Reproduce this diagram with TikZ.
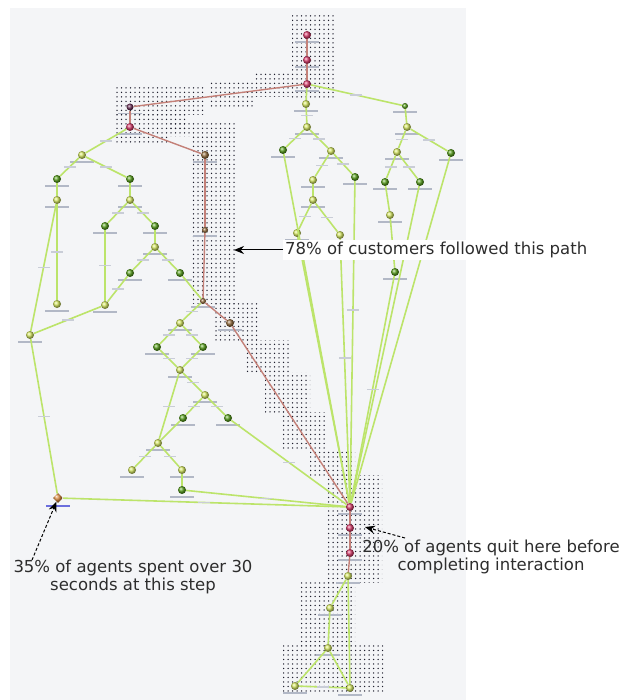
\documentclass[tikz,border=0pt]{standalone}
\usepackage{fontspec}
\setmainfont{DejaVu Sans}
\usetikzlibrary{arrows.meta,patterns,shadings,shapes.geometric}

% fine grid of dots used to mark the most travelled path
\pgfdeclarepatternformonly{griddots}{\pgfqpoint{-1pt}{-1pt}}{\pgfqpoint{1pt}{1pt}}{\pgfqpoint{4.5pt}{4.5pt}}{%
  \pgfpathcircle{\pgfqpoint{0pt}{0pt}}{0.75pt}\pgfusepath{fill}}

\definecolor{panel}{RGB}{244,245,247}
\definecolor{edgegreen}{RGB}{188,228,106}
\definecolor{pathred}{RGB}{196,128,120}
\definecolor{dkgreen}{RGB}{88,160,28}
\definecolor{ylw}{RGB}{214,232,98}
\definecolor{pnk}{RGB}{218,60,108}
\definecolor{brn}{RGB}{150,110,62}
\definecolor{orng}{RGB}{212,132,58}
\definecolor{prpl}{RGB}{110,50,90}
\definecolor{lblc}{RGB}{178,184,198}
\definecolor{dotc}{RGB}{30,30,45}
\definecolor{notec}{RGB}{45,45,45}

\begin{document}
\begin{tikzpicture}[x=1pt,y=-1pt,
  lbar/.style={rectangle,fill=lblc,inner sep=0pt,outer sep=0pt,minimum width=24pt,minimum height=1.8pt,yshift=-2pt},
  ebar/.style={rectangle,fill=lblc!70,inner sep=0pt,minimum width=12pt,minimum height=1.5pt},
  gb/.style={circle,inner sep=0pt,minimum size=8pt,ball color=dkgreen,label={[lbar]below:{}}},
  yb/.style={circle,inner sep=0pt,minimum size=8pt,ball color=ylw,label={[lbar]below:{}}},
  pb/.style={circle,inner sep=0pt,minimum size=8pt,ball color=pnk,label={[lbar]below:{}}},
  bb/.style={circle,inner sep=0pt,minimum size=8pt,ball color=brn,label={[lbar]below:{}}},
  ob/.style={diamond,inner sep=0pt,minimum size=10pt,ball color=orng,label={[lbar,fill=lblc!60!blue]below:{}}},
  ub/.style={circle,inner sep=0pt,minimum size=7pt,ball color=prpl,label={[lbar]below:{}}},
  gedge/.style={draw=edgegreen,line width=1.6pt},
  redge/.style={draw=pathred,line width=1.4pt},
  hot/.style={pattern=griddots,pattern color=dotc},
  note/.style={font=\fontsize{16.5}{18}\selectfont,text=notec,inner sep=1pt,align=center},
  pointer/.style={draw=black,line width=1pt,-{Stealth[length=10pt,width=8pt]}}
]
\useasboundingbox (0,0) rectangle (639,700);
\fill[white] (0,0) rectangle (639,700);
\fill[panel] (10,8) rectangle (466,700);

% highlighted route
\fill[hot] (292,15) rectangle (336,98);
\fill[hot] (255,72) rectangle (292,97);
\fill[hot] (210,82) rectangle (255,107);
\fill[hot] (115,88) rectangle (205,115);
\fill[hot] (115,115) rectangle (188,130);
\fill[hot] (115,130) rectangle (170,143);
\fill[hot] (170,124) rectangle (235,137);
\fill[hot] (190,137) rectangle (235,303);
\fill[hot] (215,303) rectangle (260,340);
\fill[hot] (245,340) rectangle (290,372);
\fill[hot] (265,372) rectangle (310,412);
\fill[hot] (280,412) rectangle (327,450);
\fill[hot] (310,450) rectangle (355,475);
\fill[hot] (325,475) rectangle (382,582);
\fill[hot] (300,582) rectangle (355,645);
\fill[hot] (283,645) rectangle (383,693);

% nodes: top column and left branch
\node[pb] (p1) at (307,35) {};
\node[pb] (p2) at (307,60) {};
\node[pb] (p3) at (307,84) {};
\node[ub] (pu) at (130,107) {};
\node[pb] (pk) at (130,127) {};

\node[yb] (L0) at (82,155) {};
\node[gb] (L1) at (57,179) {};
\node[gb] (L2) at (130,179) {};
\node[yb] (L3) at (57,200) {};
\node[yb] (L4) at (130,200) {};
\node[gb] (L5) at (105,226) {};
\node[gb] (L6) at (155,226) {};
\node[yb] (L7) at (155,247) {};
\node[gb] (L8) at (130,273) {};
\node[gb] (L9) at (180,273) {};
\node[yb] (L10) at (57,304) {};
\node[yb] (L11) at (105,305) {};
\node[yb] (L12) at (30,335) {};
\node[ob] (OR) at (58,498) {};

% brown column and middle branch
\node[bb] (br1) at (205,155) {};
\node[bb,minimum size=6pt] (br2) at (205,230) {};
\node[bb,minimum size=6pt] (br3) at (203,301) {};
\node[bb] (br4) at (230,323) {};

\node[yb] (M1) at (180,323) {};
\node[gb] (M2) at (157,347) {};
\node[gb] (M3) at (203,347) {};
\node[yb] (M4) at (180,370) {};
\node[yb] (M5) at (205,395) {};
\node[gb] (M6) at (183,418) {};
\node[gb] (M7) at (228,418) {};
\node[yb] (M8) at (158,443) {};
\node[yb] (M9) at (132,470) {};
\node[yb] (M10) at (182,470) {};
\node[gb] (M11) at (182,490) {};

% right branches
\node[yb] (R0) at (306,104) {};
\node[yb] (R1) at (307,127) {};
\node[gb] (R2) at (283,150) {};
\node[yb] (R3) at (331,151) {};
\node[yb] (R4) at (313,180) {};
\node[gb] (R5) at (355,177) {};
\node[yb] (R6) at (313,200) {};
\node[yb] (R7) at (297,233) {};
\node[yb] (R8) at (340,235) {};

\node[gb,minimum size=6pt] (S0) at (405,106) {};
\node[yb] (S1) at (407,127) {};
\node[yb] (S2) at (397,152) {};
\node[gb] (S3) at (451,153) {};
\node[gb] (S4) at (385,182) {};
\node[gb] (S5) at (420,182) {};
\node[yb] (S6) at (390,215) {};
\node[gb] (S7) at (395,272) {};

% lower column
\node[pb] (P1) at (350,507) {};
\node[pb] (P2) at (350,528) {};
\node[pb] (P3) at (350,553) {};
\node[yb] (P4) at (348,576) {};
\node[yb] (B1) at (330,608) {};
\node[yb] (B2) at (328,648) {};
\node[yb] (B3) at (295,686) {};
\node[yb] (B4) at (350,688) {};

% connectors
\draw[gedge] (p3) -- (R0);
\draw[gedge] (p3) -- node[ebar]{} (S0);
\draw[gedge] (pk) -- node[ebar]{} (L0);
\draw[gedge] (L0) -- node[ebar]{} (L1);
\draw[gedge] (L0) -- node[ebar]{} (L2);
\draw[gedge] (L1) -- (L3);
\draw[gedge] (L2) -- (L4);
\draw[gedge] (L4) -- node[ebar]{} (L5);
\draw[gedge] (L4) -- node[ebar]{} (L6);
\draw[gedge] (L6) -- (L7);
\draw[gedge] (L7) -- node[ebar]{} (L8);
\draw[gedge] (L7) -- node[ebar]{} (L9);
\draw[gedge] (L3) -- node[ebar]{} (L10);
\draw[gedge] (L3) -- node[ebar]{} (L12);
\draw[gedge] (L5) -- node[ebar]{} (L11);
\draw[gedge] (L8) -- node[ebar]{} (L11);
\draw[gedge] (L11) -- node[ebar]{} (L12);
\draw[gedge] (L12) -- node[ebar]{} (OR);
\draw[gedge] (L9) -- (br3);
\draw[gedge] (br3) -- node[ebar]{} (M1);
\draw[gedge] (M1) -- node[ebar]{} (M2);
\draw[gedge] (M1) -- node[ebar]{} (M3);
\draw[gedge] (M2) -- node[ebar]{} (M4);
\draw[gedge] (M3) -- node[ebar]{} (M4);
\draw[gedge] (M4) -- node[ebar]{} (M5);
\draw[gedge] (M4) -- node[ebar]{} (M8);
\draw[gedge] (M5) -- node[ebar]{} (M6);
\draw[gedge] (M5) -- node[ebar]{} (M7);
\draw[gedge] (M6) -- (M8);
\draw[gedge] (M8) -- node[ebar]{} (M9);
\draw[gedge] (M8) -- node[ebar]{} (M10);
\draw[gedge] (M10) -- (M11);
\draw[gedge] (M7) -- node[ebar]{} (P1);
\draw[gedge] (M11) -- node[ebar]{} (P1);
\draw[gedge] (OR) -- node[ebar]{} (P1);
\draw[gedge] (R0) -- node[ebar]{} (R1);
\draw[gedge] (R1) -- node[ebar]{} (R2);
\draw[gedge] (R1) -- node[ebar]{} (R3);
\draw[gedge] (R3) -- node[ebar]{} (R4);
\draw[gedge] (R3) -- node[ebar]{} (R5);
\draw[gedge] (R4) -- (R6);
\draw[gedge] (R6) -- node[ebar]{} (R7);
\draw[gedge] (R6) -- node[ebar]{} (R8);
\draw[gedge] (R2) -- (P1);
\draw[gedge] (R5) -- node[ebar,pos=0.4]{} (P1);
\draw[gedge] (R7) -- (P1);
\draw[gedge] (R8) -- node[ebar,pos=0.45]{} (P1);
\draw[gedge] (S0) -- (S1);
\draw[gedge] (S1) -- node[ebar]{} (S2);
\draw[gedge] (S1) -- node[ebar]{} (S3);
\draw[gedge] (S2) -- node[ebar]{} (S4);
\draw[gedge] (S2) -- node[ebar]{} (S5);
\draw[gedge] (S4) -- (S6);
\draw[gedge] (S6) -- node[ebar]{} (S7);
\draw[gedge] (S3) -- (P1);
\draw[gedge] (S5) -- (P1);
\draw[gedge] (S7) -- node[ebar,pos=0.5]{} (P1);
\draw[gedge] (P4) -- (B1);
\draw[gedge] (B1) -- (B2);
\draw[gedge] (B2) -- (B3);
\draw[gedge] (B2) -- (B4);
\draw[gedge] (P4) -- (B4);
\draw[gedge] (B3) -- node[ebar]{} (B4);

\draw[redge] (p1) -- (p2);
\draw[redge] (p2) -- (p3);
\draw[redge] (p3) -- (pu);
\draw[redge] (pu) -- (pk);
\draw[redge] (pk) -- (br1);
\draw[redge] (br1) -- (br2);
\draw[redge] (br2) -- (br3);
\draw[redge] (br3) -- (br4);
\draw[redge] (br4) -- (P1);
\draw[redge] (P1) -- (P2);
\draw[redge] (P2) -- (P3);
\draw[redge] (P3) -- (P4);

% callouts
\node[note,fill=white,anchor=west,inner sep=2pt] (t78) at (283,250) {78\% of customers followed this path};
\coordinate (h78) at (234,250);
\draw[pointer] (t78.west) -- (h78);

\node[note] (t20) at (491,557) {20\% of agents quit here before\\completing interaction};
\coordinate (s20) at (405,538);
\coordinate (h20) at (365,527);
\draw[pointer,densely dashed] (s20) -- (h20);

\node[note] (t35) at (133,577) {35\% of agents spent over 30\\seconds at this step};
\coordinate (s35) at (32,560);
\draw[pointer,densely dashed] (s35) -- (OR);
\end{tikzpicture}
\end{document}
